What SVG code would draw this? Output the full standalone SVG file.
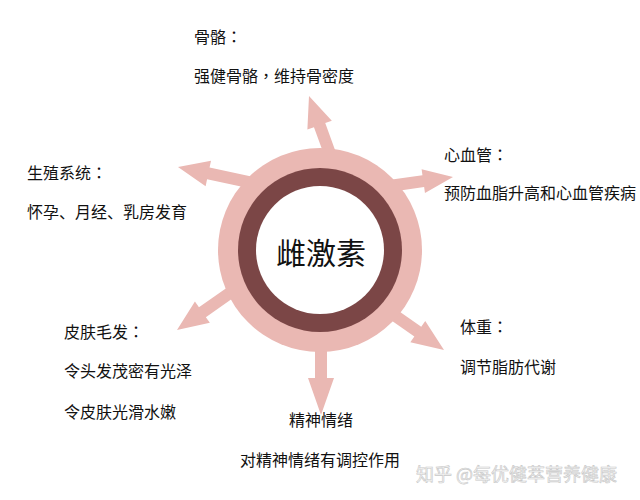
<svg xmlns="http://www.w3.org/2000/svg" width="640" height="500" viewBox="0 0 640 500">
<style>
.arrow{fill:#EAB8B3}
.t{font-family:"Noto Sans CJK SC","Noto Sans",sans-serif;font-size:16px;fill:#111}
.p{font-family:"Noto Sans CJK TC","Noto Sans CJK SC",sans-serif}
.c{font-family:"Noto Sans CJK SC","Noto Sans",sans-serif;font-size:30px;fill:#111;text-anchor:middle}
.wm{font-family:"Noto Sans CJK SC","Noto Sans",sans-serif;font-size:18px;fill:#f6f6f6;stroke:#c8c8c8;stroke-width:0.6}
</style>
<rect width="640" height="500" fill="#ffffff"/>
<g id="connectors">
  <path class="arrow" transform="translate(309,96) rotate(-110)" d="M0,0 L-31,-13 L-31,-6 L-66,-6 L-66,6 L-31,6 L-31,13 Z"/>
  <path class="arrow" transform="translate(178,167) rotate(192)" d="M0,0 L-31,-13 L-31,-6 L-80,-6 L-80,6 L-31,6 L-31,13 Z"/>
  <path class="arrow" transform="translate(453,177) rotate(-8)" d="M0,0 L-30,-12 L-30,-6 L-68,-6 L-68,6 L-30,6 L-30,12 Z"/>
  <path class="arrow" transform="translate(177,330) rotate(145)" d="M0,0 L-31,-13 L-31,-6 L-76,-6 L-76,6 L-31,6 L-31,13 Z"/>
  <path class="arrow" transform="translate(321,415) rotate(90)" d="M0,0 L-37,-13 L-37,-6 L-76,-6 L-76,6 L-37,6 L-37,13 Z"/>
  <path class="arrow" transform="translate(444,350) rotate(35)" d="M0,0 L-32,-13 L-32,-6 L-70,-6 L-70,6 L-32,6 L-32,13 Z"/>
</g>
<g id="center">
  <circle cx="320" cy="250" r="102" fill="#EAB8B3"/>
  <circle cx="320" cy="250" r="82" fill="#7B4646"/>
  <circle cx="320" cy="250" r="64" fill="#ffffff"/>
  <text class="c" x="321" y="264">雌激素</text>
</g>
<g id="bone">
  <text class="t" x="194" y="43">骨骼<tspan class="p">：</tspan></text>
  <text class="t" x="194" y="82">强健骨骼<tspan class="p">，</tspan>维持骨密度</text>
</g>
<g id="reproductive">
  <text class="t" x="27" y="179">生殖系统<tspan class="p">：</tspan></text>
  <text class="t" x="27" y="218">怀孕、月经、乳房发育</text>
</g>
<g id="cardio">
  <text class="t" x="444" y="161">心血管<tspan class="p">：</tspan></text>
  <text class="t" x="444" y="199">预防血脂升高和心血管疾病</text>
</g>
<g id="skin">
  <text class="t" x="64" y="338">皮肤毛发<tspan class="p">：</tspan></text>
  <text class="t" x="64" y="377">令头发茂密有光泽</text>
  <text class="t" x="64" y="418">令皮肤光滑水嫩</text>
</g>
<g id="weight">
  <text class="t" x="460" y="333">体重<tspan class="p">：</tspan></text>
  <text class="t" x="460" y="373">调节脂肪代谢</text>
</g>
<g id="mood">
  <text class="t" x="289" y="426">精神情绪</text>
  <text class="t" x="240" y="466">对精神情绪有调控作用</text>
</g>
<text class="wm" x="416" y="481">知乎 @每优健萃营养健康</text>
</svg>
